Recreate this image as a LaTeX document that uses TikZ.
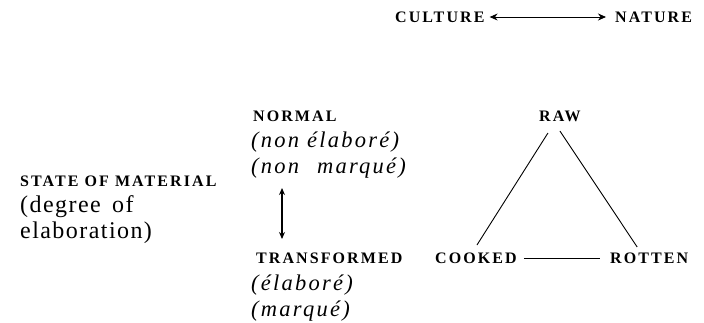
\documentclass[tikz,border=0pt]{standalone}
\usepackage{fontspec}
\setmainfont{Liberation Serif}
\newfontfamily\labfont[LetterSpace=13]{Liberation Serif}
\newfontfamily\itfont[LetterSpace=10]{Liberation Serif}
\newfontfamily\rmfontb[LetterSpace=6]{Liberation Serif}
\usetikzlibrary{arrows.meta}
\begin{document}
\begin{tikzpicture}[x=1pt,y=-1pt,
  lab/.style={inner sep=0pt,anchor=base west,font=\labfont\bfseries\fontsize{16}{16}\selectfont},
  itl/.style={inner sep=0pt,anchor=base west,font=\itfont\itshape\fontsize{22.5}{22.5}\selectfont},
  rml/.style={inner sep=0pt,anchor=base west,font=\rmfontb\fontsize{24}{24}\selectfont},
  conn/.style={line width=0.9pt},
  dbl/.style={line width=1.4pt,{Stealth[length=7pt,width=6pt]}-{Stealth[length=7pt,width=6pt]}}]
\useasboundingbox (0,0) rectangle (704,322);
% top
\node[lab] (culture) at (395,22) {CULTURE};
\node[lab] (nature) at (615,22) {NATURE};
\draw[conn,{Stealth[length=8pt,width=7pt]}-{Stealth[length=8pt,width=7pt]}] ([xshift=5pt,yshift=5pt]culture.base east) -- ([xshift=-9pt,yshift=5pt]nature.base west);
% left
\node[lab] (state) at (20,186) {STATE OF MATERIAL};
\node[rml] (degree) at (20,212.5) {(degree\, of};
\node[rml] (elab) at (20,238) {elaboration)};
% middle
\node[lab] (normal) at (253,121) {NORMAL};
\node[itl] (nonelab) at (251,147.5) {(non élaboré)};
\node[itl] (nonmarq) at (251,173.5) {(non\;\, marqué)};
\node[lab] (transf) at (256,263) {TRANSFORMED};
\node[itl] (elabore) at (251,290.5) {(élaboré)};
\node[itl] (marque) at (251,316.5) {(marqué)};
\coordinate (atop) at (282,188);
\coordinate (abot) at (282,239);
\draw[dbl] (atop) -- (abot);
% triangle
\node[lab] (raw) at (539,121) {RAW};
\node[lab] (cooked) at (435,263) {COOKED};
\node[lab] (rotten) at (610,263) {ROTTEN};
\draw[conn] ([xshift=-12pt,yshift=-12pt]raw.base) -- ([xshift=1pt,yshift=18pt]cooked.base);
\draw[conn] ([xshift=0pt,yshift=-10pt]raw.base) -- ([xshift=-12pt,yshift=16pt]rotten.base);
\draw[conn] ([xshift=7pt,yshift=5pt]cooked.base east) -- ([xshift=-10pt,yshift=5pt]rotten.base west);
\end{tikzpicture}
\end{document}
